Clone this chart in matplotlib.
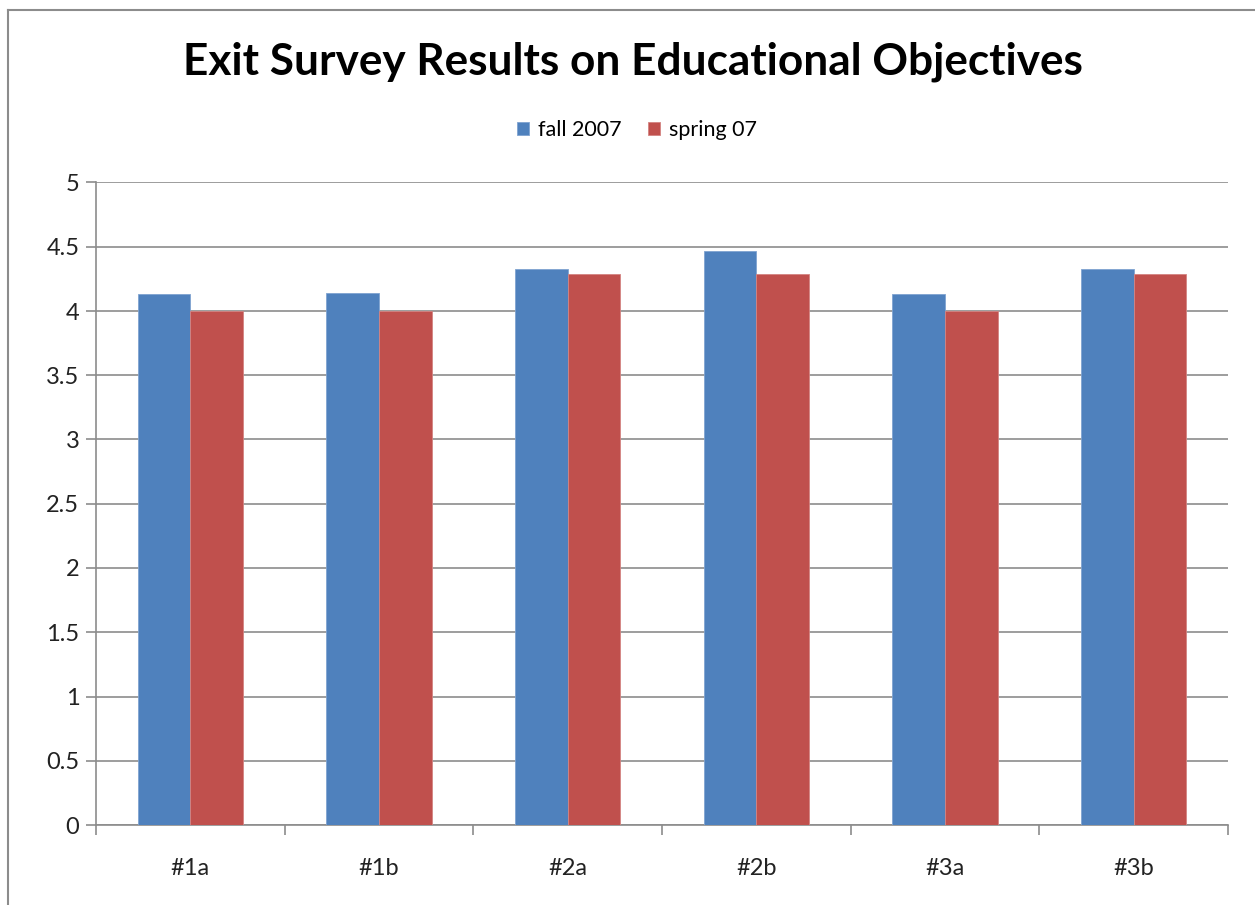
import matplotlib
matplotlib.use("Agg")
import matplotlib.pyplot as plt
import numpy as np

# data
categories = ["#1a", "#1b", "#2a", "#2b", "#3a", "#3b"]
fall_2007 = [4.13, 4.14, 4.33, 4.47, 4.13, 4.33]
spring_07 = [4.00, 4.00, 4.29, 4.29, 4.00, 4.29]

plt.rcParams['font.family'] = ['Lato', 'DejaVu Sans']

fig = plt.figure(figsize=(12.55, 9.05), dpi=100)
ax = fig.add_axes([96 / 1255, 80 / 905, (1228 - 96) / 1255, (825 - 182.5) / 905])

x = np.arange(len(categories))
w = 0.28
ax.bar(x - w / 2, fall_2007, w, color='#4F81BD', edgecolor='#7FA3D0', linewidth=0.6,
       label='fall 2007', zorder=3)
ax.bar(x + w / 2, spring_07, w, color='#C0504D', edgecolor='#D48482', linewidth=0.6,
       label='spring 07', zorder=3)

ax.set_xlim(-0.5, len(categories) - 0.5)
ax.set_ylim(0, 5)
ax.set_yticks(np.arange(0, 5.01, 0.5))
ax.set_yticklabels(['0', '0.5', '1', '1.5', '2', '2.5', '3', '3.5', '4', '4.5', '5'])
ax.set_xticks(x)
ax.set_xticklabels(categories)
ax.set_xticks(np.arange(-0.5, len(categories), 1), minor=True)

ax.yaxis.grid(True, color='#8C8C8C', linewidth=1.2, zorder=0)
for side in ['top', 'right']:
    ax.spines[side].set_visible(False)
for side in ['left', 'bottom']:
    ax.spines[side].set_color('#8C8C8C')
    ax.spines[side].set_linewidth(1.2)

ax.tick_params(axis='y', which='major', length=7, width=1.2, color='#8C8C8C',
               labelsize=17, pad=5, labelcolor='#222222')
ax.tick_params(axis='x', which='major', length=0, labelsize=17, pad=24, labelcolor='#222222')
ax.tick_params(axis='x', which='minor', length=7, width=1.2, color='#8C8C8C')

fig.text(0.504, 1 - 62 / 905, "Exit Survey Results on Educational Objectives",
         ha='center', va='center', fontsize=31.8, fontweight='bold')

ax.legend(loc='center', bbox_to_anchor=(0.478, (825 - 130) / (825 - 182.5)),
          ncol=2, frameon=False, fontsize=15.5, handlelength=0.55, handleheight=0.55,
          columnspacing=1.2, handletextpad=0.45)

# outer chart frame (left and top edges visible)
fig.add_artist(plt.Line2D([8 / 1255, 8 / 1255], [0, 1 - 10 / 905], color='#8C8C8C', linewidth=1.5))
fig.add_artist(plt.Line2D([8 / 1255, 1], [1 - 10 / 905, 1 - 10 / 905], color='#8C8C8C', linewidth=1.5))

fig.savefig('out.png', dpi=100)
